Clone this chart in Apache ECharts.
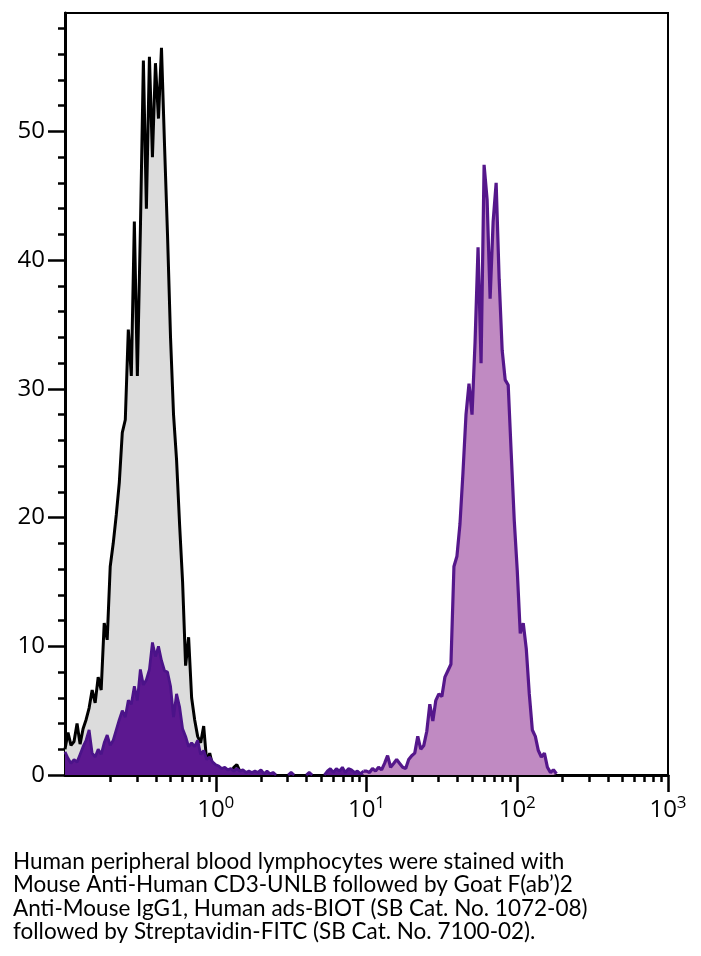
<!DOCTYPE html>
<html><head><meta charset="utf-8">
<script src="https://cdn.jsdelivr.net/npm/echarts@6/dist/echarts.min.js"></script>
<style>html,body{margin:0;padding:0;background:#fff}#c{width:701px;height:956px}</style>
</head><body><div id="c"></div>
<script>
// Histogram bin centres (fluorescence intensity, log spaced)
const binCentres = [
  0.1, 0.1047, 0.1096, 0.1148, 0.1202, 0.1259, 0.1318, 0.138, 0.1445, 0.1514,
  0.1585, 0.166, 0.1738, 0.182, 0.1905, 0.1995, 0.2089, 0.2188, 0.2291, 0.2399,
  0.2512, 0.263, 0.2754, 0.2884, 0.302, 0.3162, 0.3311, 0.3467, 0.3631, 0.3802,
  0.3981, 0.4169, 0.4365, 0.4571, 0.4786, 0.5012, 0.5248, 0.5495, 0.5754, 0.6026,
  0.631, 0.6607, 0.6918, 0.7244, 0.7586, 0.7943, 0.8318, 0.871, 0.912, 0.955,
  1, 1.047, 1.096, 1.148, 1.202, 1.259, 1.318, 1.38, 1.445, 1.514,
  1.585, 1.66, 1.738, 1.82, 1.905, 1.995, 2.089, 2.188, 2.291, 2.399,
  2.512, 2.63, 2.754, 2.884, 3.02, 3.162, 3.311, 3.467, 3.631, 3.802,
  3.981, 4.169, 4.365, 4.571, 4.786, 5.012, 5.248, 5.495, 5.754, 6.026,
  6.31, 6.607, 6.918, 7.244, 7.586, 7.943, 8.318, 8.71, 9.12, 9.55,
  10, 10.47, 10.96, 11.48, 12.02, 12.59, 13.18, 13.8, 14.45, 15.14,
  15.85, 16.6, 17.38, 18.2, 19.05, 19.95, 20.89, 21.88, 22.91, 23.99,
  25.12, 26.3, 27.54, 28.84, 30.2, 31.62, 33.11, 34.67, 36.31, 38.02,
  39.81, 41.69, 43.65, 45.71, 47.86, 50.12, 52.48, 54.95, 57.54, 60.26,
  63.1, 66.07, 69.18, 72.44, 75.86, 79.43, 83.18, 87.1, 91.2, 95.5,
  100, 104.7, 109.6, 114.8, 120.2, 125.9, 131.8, 138, 144.5, 151.4,
  158.5, 166, 173.8, 182, 190.5, 199.5
];

// Isotype control (grey) counts, from first bin
const controlCounts = [
  2.0, 3.3, 2.3, 2.6, 4.0, 2.4, 3.6, 4.3, 5.2, 6.6,
  5.6, 7.6, 6.6, 11.8, 10.5, 16.2, 18.0, 20.2, 22.7, 26.6,
  27.6, 34.6, 31.0, 43.0, 31.0, 42.3, 55.5, 44.0, 55.8, 48.0,
  55.3, 51.0, 56.5, 49.0, 42.0, 34.0, 28.0, 24.5, 19.5, 15.0,
  8.5, 10.7, 6.0, 4.3, 3.0, 2.5, 3.8, 1.0, 1.7, 0.7,
  0.3, 0.5, 0.2, 0.2, 0.3, 0.1, 0.6, 0.8, 0.3, 0.1, 0
];

// Dark purple (negative population) counts, from first bin
const lowCounts = [
  1.8, 1.3, 0.9, 1.2, 1.0, 1.6, 2.2, 2.7, 3.5, 1.7,
  1.4, 2.0, 1.6, 2.5, 3.1, 2.3, 2.7, 3.5, 4.3, 5.0,
  4.5, 5.8, 5.5, 6.9, 5.8, 8.2, 7.0, 7.4, 8.2, 10.3,
  9.2, 10.0, 8.9, 8.1, 8.0, 6.9, 4.5, 6.3, 5.3, 3.6,
  3.0, 2.2, 2.5, 2.2, 2.7, 1.6, 1.9, 1.2, 1.4, 1.0,
  0.8, 0.7, 0.5, 0.6, 0.4, 0.5, 0.3, 0.5, 0.3, 0.4,
  0.2, 0.3, 0.2, 0.3, 0.2, 0.4, 0.1, 0.3, 0.1, 0.2,
  0, null, null, null, 0, 0.2, 0, null, null, null,
  0, 0.2, 0, null, null, null, 0, 0.3, 0.5, 0.2,
  0.5, 0.3, 0.6, 0.2, 0.5, 0.4, 0.2, 0.3, 0.1, 0.3
];

// CD3-stained (light purple) counts, starting at bin 99
const positiveFirstBin = 99;
const positiveCounts = [
  0.3,
  0.3, 0.2, 0.5, 0.3, 0.6, 0.4, 0.9, 1.5, 0.6, 0.9,
  1.2, 0.9, 0.6, 0.5, 1.2, 1.5, 1.7, 3.0, 2.0, 2.3,
  3.4, 5.5, 4.2, 5.8, 6.3, 6.1, 7.6, 8.1, 8.6, 16.2,
  17.0, 19.5, 23.5, 28.0, 30.4, 28.0, 33.6, 41.0, 32.0, 47.4,
  44.7, 37.0, 43.0, 46.0, 38.5, 33.0, 30.7, 30.3, 25.0, 19.8,
  15.9, 11.0, 11.8, 9.8, 6.3, 3.5, 3.0, 1.9, 1.4, 1.7,
  0.6, 0.2, 0.4, 0.1
];

const xMajorTicks = [1, 10, 100, 1000];
const xMinorTicks = [0.2, 0.3, 0.4, 0.5, 0.6, 0.7, 0.8, 0.9,
  2, 3, 4, 5, 6, 7, 8, 9, 20, 30, 40, 50, 60, 70, 80, 90,
  200, 300, 400, 500, 600, 700, 800, 900];
const yMajorTicks = [0, 10, 20, 30, 40, 50];
const yMinorTicks = [2, 4, 6, 8, 12, 14, 16, 18, 22, 24, 26, 28, 32, 34, 36, 38,
  42, 44, 46, 48, 52, 54, 56, 58];
const yMax = 59.2;

const caption = [
  'Human peripheral blood lymphocytes were stained with',
  'Mouse Anti-Human CD3-UNLB followed by Goat F(ab\u2019)2',
  'Anti-Mouse IgG1, Human ads-BIOT (SB Cat. No. 1072-08)',
  'followed by Streptavidin-FITC (SB Cat. No. 7100-02).'
];

function pairs(counts, first) {
  return counts.map((v, i) => [binCentres[first + i], v]);
}

const tickFont = 'Open Sans';
const chart = echarts.init(document.getElementById('c'), null, {renderer: 'canvas'});
const xBase = {
  type: 'log', logBase: 10, min: 0.1, max: 1000, position: 'bottom',
  splitLine: {show: false}
};
const yBase = {
  type: 'value', min: 0, max: yMax, position: 'left', splitLine: {show: false}
};
chart.setOption({
  animation: false,
  backgroundColor: '#fff',
  textStyle: {fontFamily: tickFont, fontSize: 24, color: '#000'},
  grid: {left: 65, right: 33, top: 13, bottom: 181, show: true,
         borderColor: '#000', borderWidth: 2, containLabel: false},
  xAxis: [
    Object.assign({}, xBase, {
      axisLine: {lineStyle: {color: '#000', width: 3}},
      axisTick: {customValues: xMajorTicks, length: 17, lineStyle: {color: '#000', width: 2.5}},
      axisLabel: {
        show: true, margin: 20, color: '#000', fontSize: 24, fontFamily: tickFont,
        showMinLabel: true, showMaxLabel: true, hideOverlap: false,
        formatter: v => {
          if (xMajorTicks.indexOf(Math.round(v * 1000) / 1000) < 0) return '';
          return '{b|10}{s|' + Math.round(Math.log10(v)) + '}';
        },
        rich: {
          b: {fontFamily: tickFont, fontSize: 24, color: '#000', lineHeight: 30},
          s: {fontFamily: tickFont, fontSize: 17, color: '#000', verticalAlign: 'top', lineHeight: 30, padding: [0, 0, 14, 0]}
        }
      }
    }),
    Object.assign({}, xBase, {
      axisLine: {show: false},
      axisTick: {customValues: xMinorTicks, length: 7, lineStyle: {color: '#000', width: 2.5}},
      axisLabel: {show: false}
    })
  ],
  yAxis: [
    Object.assign({}, yBase, {
      interval: 10,
      axisLine: {lineStyle: {color: '#000', width: 3}},
      axisTick: {customValues: yMajorTicks, length: 17, lineStyle: {color: '#000', width: 2.5}},
      axisLabel: {margin: 20, color: '#000', fontFamily: tickFont, fontSize: 24,
                  formatter: v => (yMajorTicks.indexOf(v) < 0 ? '' : String(v))}
    }),
    Object.assign({}, yBase, {
      axisLine: {show: false},
      axisTick: {customValues: yMinorTicks, length: 7, lineStyle: {color: '#000', width: 2.5}},
      axisLabel: {show: false}
    })
  ],
  series: [
    {
      name: 'Control', type: 'line', xAxisIndex: 0, yAxisIndex: 0,
      data: pairs(controlCounts, 0), showSymbol: false, symbol: 'none', z: 2,
      lineStyle: {color: '#000', width: 3},
      areaStyle: {color: '#dcdcdc', opacity: 1}
    },
    {
      name: 'Negative', type: 'line', xAxisIndex: 0, yAxisIndex: 0,
      data: pairs(lowCounts, 0), showSymbol: false, symbol: 'none', z: 3,
      lineStyle: {color: '#4b1389', width: 2.8},
      areaStyle: {color: '#5c1890', opacity: 1}
    },
    {
      name: 'CD3', type: 'line', xAxisIndex: 0, yAxisIndex: 0,
      data: pairs(positiveCounts, positiveFirstBin), showSymbol: false, symbol: 'none', z: 3,
      lineStyle: {color: '#55178b', width: 3.2},
      areaStyle: {color: '#c08ac2', opacity: 1}
    }
  ],
  graphic: [{
    type: 'text', left: 13, top: 850,
    style: {
      text: caption.join('\n'), fill: '#000',
      font: '22.5px Lato', lineHeight: 23.3
    }
  }]
});
</script>
</body></html>
